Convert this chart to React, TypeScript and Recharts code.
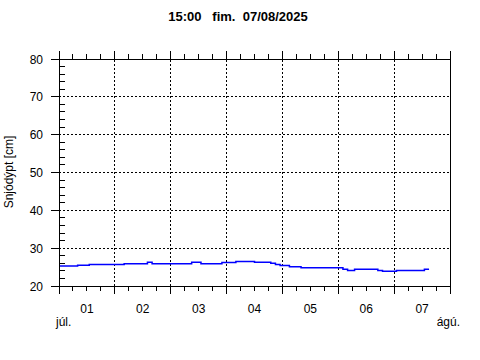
import { LineChart, Line, XAxis, YAxis, ReferenceLine } from 'recharts'

// hours since 01/08 00:00 where the snow depth changes, and the depth from that hour on
const hours = [0, 8, 13, 28, 38, 40, 57, 61, 70, 76, 84, 91, 93, 95, 99, 104, 122, 124, 127, 137, 139, 145, 157, 159]
const depth = [25.3, 25.5, 25.7, 25.9, 26.3, 25.9, 26.3, 25.9, 26.2, 26.5, 26.3, 26.0, 25.7, 25.4, 25.1, 24.8, 24.4, 24.1, 24.4, 24.1, 23.9, 24.1, 24.4, 24.4]

const dayLabels = ['01', '02', '03', '04', '05', '06', '07']
const monthStart = 'júl.'
const monthEnd = 'ágú.'
const hourTicks = [0, 6, 12, 18, 24, 30, 36, 42, 48, 54, 60, 66, 72, 78, 84, 90, 96, 102, 108, 114, 120, 126, 132, 138, 144, 150, 156, 162, 168]
const yTicks = [20, 22, 24, 26, 28, 30, 32, 34, 36, 38, 40, 42, 44, 46, 48, 50, 52, 54, 56, 58, 60, 62, 64, 66, 68, 70, 72, 74, 76, 78, 80]
const gridY = [30, 40, 50, 60, 70]
const gridX = [24, 48, 72, 96, 120, 144]

const title = '15:00\u00a0\u00a0\u00a0fim.\u00a0\u00a007/08/2025'
const yLabel = 'Snjódýpt [cm]'

const font = '"Liberation Sans", Arial, sans-serif'

const data = hours.map((h, i) => ({ h, v: depth[i] }))

function BottomTick(props: any) {
  const { x, y, payload } = props
  const h = payload.value as number
  const major = h % 24 === 0
  return (
    <g>
      <line x1={x} x2={x} y1={y} y2={y + (major ? 8 : 5)} stroke="#000" shapeRendering="crispEdges" />
      {h % 24 === 12 && (
        <text x={x} y={y + 27} textAnchor="middle" fontSize={12} fontFamily={font} fill="#000">
          {dayLabels[(h - 12) / 24]}
        </text>
      )}
      {h === 0 && (
        <text x={x - 3} y={y + 40} textAnchor="start" fontSize={12} fontFamily={font} fill="#000">
          {monthStart}
        </text>
      )}
      {h === 168 && (
        <text x={x + 10} y={y + 40} textAnchor="end" fontSize={12} fontFamily={font} fill="#000">
          {monthEnd}
        </text>
      )}
    </g>
  )
}

function TopTick(props: any) {
  const { x, y, payload } = props
  const major = payload.value % 24 === 0
  return <line x1={x} x2={x} y1={y} y2={y - (major ? 8 : 5)} stroke="#000" shapeRendering="crispEdges" />
}

function LeftTick(props: any) {
  const { x, y, payload } = props
  const v = payload.value as number
  if (v % 10 !== 0) {
    return <line x1={x} x2={x + 6} y1={y} y2={y} stroke="#000" shapeRendering="crispEdges" />
  }
  return (
    <g>
      <line x1={x - 8} x2={x} y1={y} y2={y} stroke="#000" shapeRendering="crispEdges" />
      <text x={x - 16} y={y + 4.5} textAnchor="end" fontSize={12} fontFamily={font} fill="#000">
        {v}
      </text>
    </g>
  )
}

function RightTick(props: any) {
  const { x, y, payload } = props
  const v = payload.value as number
  if (v % 10 !== 0) {
    return <line x1={x - 5} x2={x} y1={y} y2={y} stroke="#000" shapeRendering="crispEdges" />
  }
  return (
    <g>
      <line x1={x} x2={x + 8} y1={y} y2={y} stroke="#000" shapeRendering="crispEdges" />
      <text x={x + 12} y={y + 4.5} textAnchor="start" fontSize={12} fontFamily={font} fill="#000">
        {v}
      </text>
    </g>
  )
}

export default function App() {
  return (
    <div style={{ position: 'absolute', left: 0, top: 0, width: 480, height: 360, background: '#fff' }}>
      <LineChart width={480} height={360} data={data} margin={{ top: 49, right: 0, bottom: 34, left: 14 }}>
        <XAxis
          dataKey="h"
          type="number"
          domain={[0, 168]}
          ticks={hourTicks}
          interval={0}
          height={40}
          tickSize={0}
          tickMargin={0}
          tickLine={false}
          axisLine={{ stroke: '#000', shapeRendering: 'crispEdges' }}
          tick={BottomTick}
        />
        <XAxis
          xAxisId="top"
          orientation="top"
          dataKey="h"
          type="number"
          domain={[0, 168]}
          ticks={hourTicks}
          interval={0}
          height={10}
          tickSize={0}
          tickMargin={0}
          tickLine={false}
          axisLine={{ stroke: '#000', shapeRendering: 'crispEdges' }}
          tick={TopTick}
        />
        <YAxis
          type="number"
          domain={[20, 80]}
          ticks={yTicks}
          interval={0}
          width={45}
          tickSize={0}
          tickMargin={0}
          tickLine={false}
          axisLine={{ stroke: '#000', shapeRendering: 'crispEdges' }}
          tick={LeftTick}
        />
        <YAxis
          yAxisId="right"
          orientation="right"
          type="number"
          domain={[20, 80]}
          ticks={yTicks}
          interval={0}
          width={30}
          tickSize={0}
          tickMargin={0}
          tickLine={false}
          axisLine={{ stroke: '#000', shapeRendering: 'crispEdges' }}
          tick={RightTick}
        />
        {gridY.map((v) => (
          <ReferenceLine key={'y' + v} y={v} stroke="#000" strokeDasharray="2 2" shapeRendering="crispEdges" />
        ))}
        {gridX.map((v) => (
          <ReferenceLine key={'x' + v} x={v} stroke="#000" strokeDasharray="2 2" shapeRendering="crispEdges" />
        ))}
        <Line
          type="stepAfter"
          dataKey="v"
          stroke="#0000ff"
          strokeWidth={1.5}
          dot={false}
          activeDot={false}
          isAnimationActive={false}
        />
      </LineChart>
      <svg width={480} height={360} style={{ position: 'absolute', left: 0, top: 0, pointerEvents: 'none' }}>
        <text x={238} y={21} textAnchor="middle" fontSize={13} fontWeight="bold" fontFamily={font} fill="#000">
          {title}
        </text>
        <text
          x={13}
          y={172}
          transform="rotate(-90 13 172)"
          textAnchor="middle"
          fontSize={12}
          fontFamily={font}
          fill="#000"
        >
          {yLabel}
        </text>
      </svg>
    </div>
  )
}
